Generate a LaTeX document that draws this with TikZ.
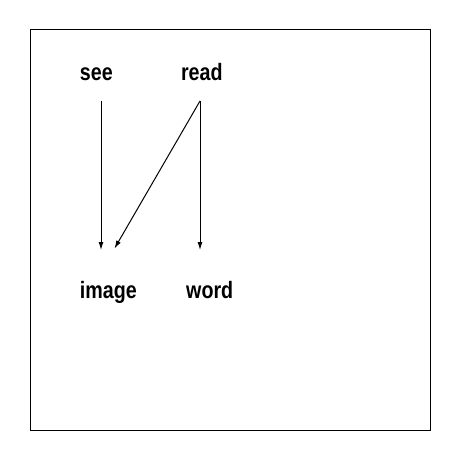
\documentclass[tikz,border=0pt]{standalone}
\usepackage{fontspec}
\setmainfont{Liberation Sans}
\usetikzlibrary{arrows.meta}
\tikzset{
  lbl/.style={anchor=base, inner sep=0pt, font=\fontsize{23.7}{24}\selectfont\bfseries, xscale=0.83},
  conn/.style={line width=1pt, -{Latex[length=8pt,width=5pt]}}
}
\begin{document}
\begin{tikzpicture}[x=1pt,y=-1pt]
\useasboundingbox (0,0) rectangle (460,460);
\draw[line width=1pt] (30,30) rectangle (430,430);
\node[lbl] (see) at (96.3,81) {see};
\node[lbl] (read) at (201.8,81) {read};
\node[lbl] (image) at (108.3,298) {image};
\node[lbl] (word) at (209.7,298) {word};
\coordinate (seeout) at (101,101);
\coordinate (readout) at (200,101);
\coordinate (imagein) at (101,250);
\coordinate (imagein2) at (114.5,248.5);
\coordinate (wordin) at (200,250);
\draw[conn] (seeout) -- (imagein);
\draw[conn] (readout) -- (imagein2);
\draw[conn] (readout) -- (wordin);
\end{tikzpicture}
\end{document}
